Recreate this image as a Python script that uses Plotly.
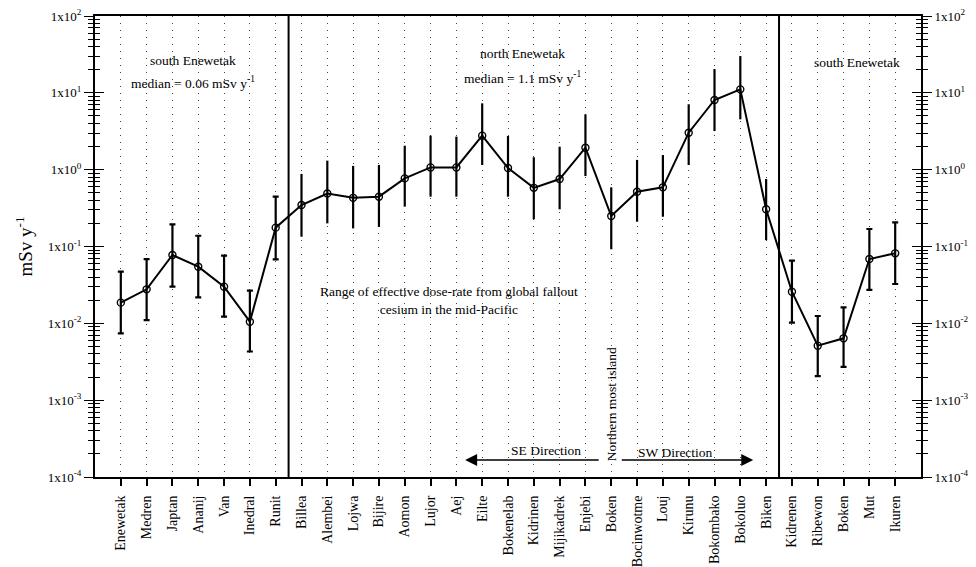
import plotly.graph_objects as go

# Islands of Enewetak Atoll, in order around the atoll
islands = ["Enewetak", "Medren", "Japtan", "Ananij", "Van", "Inedral", "Runit",
           "Billea", "Alembei", "Lojwa", "Bijire", "Aomon", "Lujor", "Aej", "Eilte",
           "Bokenelab", "Kidrinen", "Mijikadrek", "Enjebi", "Boken", "Bocinwotme",
           "Louj", "Kirunu", "Bokombako", "Bokoluo", "Biken",
           "Kidrenen", "Ribewon", "Boken", "Mut", "Ikuren"]

# Effective dose rate (mSv/y): central value and range
dose = [0.0186, 0.0277, 0.0775, 0.0546, 0.030, 0.0105, 0.176,
        0.347, 0.49, 0.43, 0.445, 0.77, 1.07, 1.07, 2.77,
        1.05, 0.58, 0.755, 1.93, 0.249, 0.516,
        0.589, 3.03, 8.07, 11.1, 0.305,
        0.0258, 0.00512, 0.00638, 0.0687, 0.0815]
dose_hi = [0.047, 0.0687, 0.194, 0.138, 0.076, 0.0266, 0.445,
           0.88, 1.31, 1.12, 1.15, 2.05, 2.77, 2.69, 7.3,
           2.74, 1.45, 1.99, 5.25, 0.589, 1.34,
           1.55, 7.1, 20.4, 30.1, 0.755,
           0.0653, 0.01245, 0.01615, 0.169, 0.2065]
dose_lo = [0.0074, 0.011, 0.030, 0.0218, 0.0122, 0.0043, 0.068,
           0.134, 0.20, 0.172, 0.18, 0.33, 0.445, 0.445, 1.15,
           0.445, 0.226, 0.305, 0.826, 0.092, 0.21,
           0.244, 1.15, 3.18, 4.52, 0.121,
           0.0102, 0.00206, 0.00272, 0.0272, 0.0325]

# Region boundaries (between Runit/Billea and Biken/Kidrenen)
north_start, north_end = 7, 25

ytick_vals = [1e-4, 1e-3, 1e-2, 1e-1, 1e0, 1e1, 1e2]
ytick_text = ["1x10<sup>-4</sup>", "1x10<sup>-3</sup>", "1x10<sup>-2</sup>",
              "1x10<sup>-1</sup>", "1x10<sup>0</sup>", "1x10<sup>1</sup>",
              "1x10<sup>2</sup>"]
minor_vals = [m * 10 ** e for e in range(-4, 2) for m in range(2, 10)]

FONT = "Liberation Serif, Times New Roman, serif"
x = list(range(len(islands)))

fig = go.Figure()

# Connecting line through all islands
fig.add_trace(go.Scatter(x=x, y=dose, mode="lines",
                         line=dict(color="black", width=2), showlegend=False,
                         hoverinfo="skip"))

# Points with error ranges; caps only in the two south groups
def add_group(idx, cap):
    fig.add_trace(go.Scatter(
        x=[x[i] for i in idx], y=[dose[i] for i in idx], mode="markers",
        marker=dict(symbol="circle-open", size=7, color="black",
                    line=dict(width=1.4, color="black")),
        error_y=dict(type="data", symmetric=False,
                     array=[dose_hi[i] - dose[i] for i in idx],
                     arrayminus=[dose[i] - dose_lo[i] for i in idx],
                     color="black", thickness=2.2, width=cap),
        showlegend=False))

add_group(list(range(0, north_start)), 3)
add_group(list(range(north_start, north_end + 1)), 0)
add_group(list(range(north_end + 1, len(islands))), 3)

# Solid separators between the south / north / south regions
for xb in (north_start - 0.5, north_end + 0.5):
    fig.add_shape(type="line", xref="x", yref="paper", x0=xb, x1=xb, y0=0, y1=1,
                  line=dict(color="black", width=2))

ann_font = dict(family=FONT, size=13.5, color="black")
texts = [
    (2.8, 1.427, "south Enewetak"),
    (2.8, 1.141, "median = 0.06 mSv y<sup>-1</sup>"),
    (15.58, 1.518, "north Enewetak"),
    (15.58, 1.206, "median = 1.1 mSv y<sup>-1</sup>"),
    (28.52, 1.392, "south Enewetak"),
    (12.72, -1.70, "Range of effective dose-rate from global fallout<br>cesium in the mid-Pacific"),
    (16.46, -3.658, "SE Direction"),
    (21.5, -3.684, "SW Direction"),
]
for tx, ty, t in texts:
    fig.add_annotation(x=tx, y=ty, xref="x", yref="y", text=t, showarrow=False,
                       font=ann_font, xanchor="center", yanchor="middle")

fig.add_annotation(x=19, y=-3.05, xref="x", yref="y", text="Northern most island",
                   textangle=-90, showarrow=False, font=ann_font)

# Direction arrows
for tail, head in ((18.57, 13.34), (19.35, 24.5)):
    fig.add_annotation(x=head, y=-3.779, ax=tail, ay=-3.779, xref="x", yref="y",
                       axref="x", ayref="y", text="", showarrow=True,
                       arrowhead=2, arrowsize=1.6, arrowwidth=1.5,
                       arrowcolor="black")

fig.update_xaxes(
    range=[-1, 31], tickmode="array", tickvals=x, ticktext=islands,
    tickangle=-90, ticks="outside", ticklen=7, tickwidth=1.5, tickcolor="black",
    ticklabelstandoff=4, automargin=False,
    showline=True, linecolor="black", linewidth=2, mirror=True,
    showgrid=True, gridcolor="#444", gridwidth=1, griddash="1px,6px",
    zeroline=False, tickfont=dict(family=FONT, size=14, color="black"))

common_y = dict(type="log", range=[-4, 2], tickmode="array", tickvals=ytick_vals,
                showgrid=False, zeroline=False, tickcolor="black", tickwidth=1.3,
                automargin=False)

fig.update_layout(
    width=976, height=567, margin=dict(l=95, r=55, t=16, b=90),
    paper_bgcolor="white", plot_bgcolor="white",
    font=dict(family=FONT, color="black"),
    yaxis=dict(**common_y, ticktext=ytick_text, ticks="outside", ticklen=9,
               showline=True, linecolor="black", linewidth=2,
               minor=dict(tickmode="array", tickvals=minor_vals, ticks="outside",
                          ticklen=5, tickcolor="black", showgrid=False),
               tickfont=dict(family=FONT, size=13, color="black"),
               title=dict(text="mSv y<sup>-1</sup>", standoff=10,
                          font=dict(family=FONT, size=19, color="black"))),
    yaxis2=dict(**common_y, overlaying="y", side="left", anchor="x",
                ticks="inside", ticklen=9, showticklabels=False, showline=False,
                minor=dict(tickmode="array", tickvals=minor_vals, ticks="inside",
                           ticklen=5, tickcolor="black", showgrid=False)),
    yaxis3=dict(**common_y, overlaying="y", side="right", anchor="x",
                ticktext=ytick_text, ticks="outside", ticklen=9,
                showline=True, linecolor="black", linewidth=2,
                minor=dict(tickmode="array", tickvals=minor_vals, ticks="outside",
                           ticklen=5, tickcolor="black", showgrid=False),
                tickfont=dict(family=FONT, size=13, color="black")),
    yaxis4=dict(**common_y, overlaying="y", side="right", anchor="x",
                ticks="inside", ticklen=9, showticklabels=False, showline=False,
                minor=dict(tickmode="array", tickvals=minor_vals, ticks="inside",
                           ticklen=5, tickcolor="black", showgrid=False)),
)

# Invisible traces so the overlay axes are drawn
for ax in ("y2", "y3", "y4"):
    fig.add_trace(go.Scatter(x=[x[0]], y=[dose[0]], yaxis=ax, mode="markers",
                             marker=dict(opacity=0), showlegend=False,
                             hoverinfo="skip"))

fig.write_html("out.html")
